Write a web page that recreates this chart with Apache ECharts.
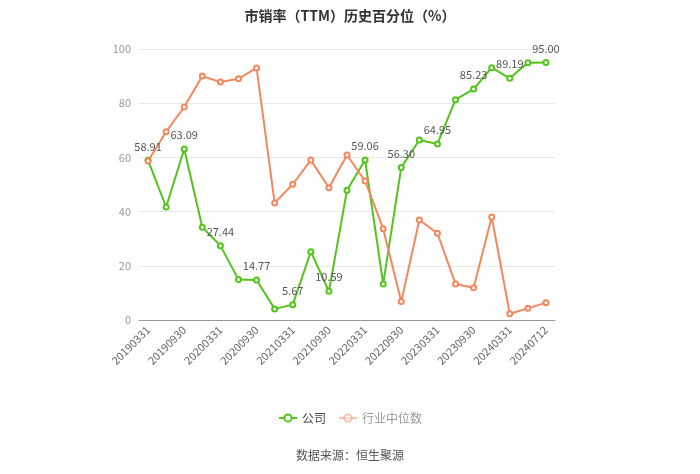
<!DOCTYPE html>
<html>
<head>
<meta charset="utf-8">
<script src="https://cdn.jsdelivr.net/npm/echarts@6/dist/echarts.min.js"></script>
<style>html,body{margin:0;padding:0;background:#fff;}#c{width:700px;height:474px;}</style>
</head>
<body>
<div id="c"></div>
<script>
const categories = ['20190331','20190630','20190930','20191231','20200331','20200630','20200930','20201231','20210331','20210630','20210930','20211231','20220331','20220630','20220930','20221231','20230331','20230630','20230930','20231231','20240331','20240630','20240712'];
const companyValues = [58.91,41.7,63.09,34.2,27.44,14.9,14.77,4.1,5.67,25.2,10.59,47.9,59.06,13.3,56.30,66.4,64.95,81.3,85.23,93.1,89.19,94.9,95.00];
const industryValues = [58.7,69.5,78.6,90.0,87.8,89.0,93.0,43.2,50.1,59.0,48.8,60.9,51.3,33.7,6.8,36.9,32.0,13.3,11.9,38.0,2.3,4.3,6.4];
const yTicks = {min:0, max:100, interval:20};
const titleText = '市销率（TTM）历史百分位（%）';
const sourceText = '数据来源：恒生聚源';
const seriesNames = ['公司','行业中位数'];

const chart = echarts.init(document.getElementById('c'));
const font = '"Microsoft YaHei","Noto Sans CJK SC",sans-serif';
chart.setOption({
  animation:false,
  title:{text:titleText,left:'center',top:4,textStyle:{fontSize:14,fontWeight:'bold',color:'#333',fontFamily:font}},
  graphic:[{type:'text',left:'center',top:449,style:{text:sourceText,fill:'#555',fontSize:12,fontFamily:font}}],
  legend:{
    bottom:45,left:'center',itemWidth:18,itemHeight:9,itemGap:12,
    textStyle:{fontSize:12,fontFamily:font,color:'#444'},
    data:[
      {name:seriesNames[0]},
      {name:seriesNames[1],itemStyle:{opacity:0.5},lineStyle:{opacity:0.5},textStyle:{color:'#999'}}
    ]
  },
  grid:{left:139,right:145,top:49,bottom:154},
  xAxis:{
    type:'category',data:categories,boundaryGap:true,
    axisLine:{lineStyle:{color:'#999'}},
    axisTick:{alignWithLabel:true,interval:1,lineStyle:{color:'#999'}},
    axisLabel:{interval:1,rotate:45,color:'#666',fontSize:11,fontFamily:font,margin:8}
  },
  yAxis:{
    type:'value',min:yTicks.min,max:yTicks.max,interval:yTicks.interval,
    axisLine:{show:false},axisTick:{show:false},
    axisLabel:{color:'#999',fontSize:11,fontFamily:font,margin:8},
    splitLine:{lineStyle:{color:'#e8e8e8'}}
  },
  series:[
    {name:seriesNames[0],type:'line',data:companyValues,symbol:'emptyCircle',symbolSize:5,
     itemStyle:{color:'#52c41a'},lineStyle:{width:2,color:'#52c41a'},
     label:{show:true,position:'top',color:'#555',fontSize:11,fontFamily:font,
       formatter:p=>p.dataIndex%2===0?p.value.toFixed(2):''}},
    {name:seriesNames[1],type:'line',data:industryValues,symbol:'emptyCircle',symbolSize:5,
     itemStyle:{color:'#f5875f'},lineStyle:{width:2,color:'#f5875f'}}
  ]
});
</script>
</body>
</html>
